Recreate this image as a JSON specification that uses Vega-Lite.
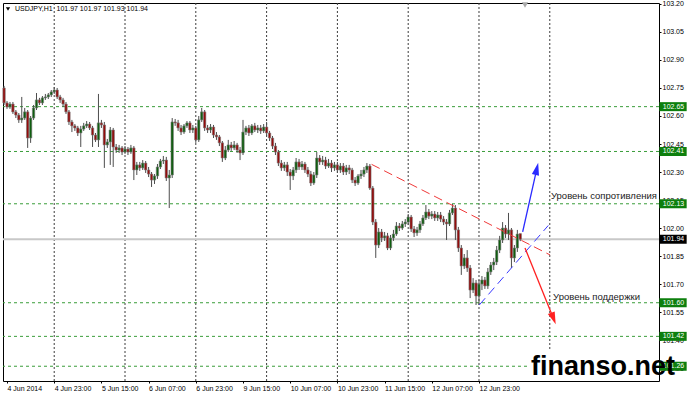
{
"$schema": "https://vega.github.io/schema/vega-lite/v6.json",
"width": 656, "height": 378,
"autosize": {"type": "none"},
"padding": {"left": 3, "top": 3, "right": 29, "bottom": 14},
"background": "white",
"config": {"view": {"stroke": "#000", "strokeWidth": 1}, "scale": {"continuousPadding": 0}, "axis": {"labelFont": "Liberation Sans", "labelOverlap": false, "labelFlush": false, "labelBound": false}, "text": {"font": "Liberation Sans"}},
"datasets": {
"vgrid": [{"i":16},{"i":40},{"i":64},{"i":88},{"i":112},{"i":136},{"i":160},{"i":184}],
"levels": [{"p":102.65},{"p":102.41},{"p":102.13},{"p":101.60},{"p":101.42},{"p":101.26}],
"bid": [{"p":101.94}],
"candles": [
{"i":-1,"o":102.750,"h":102.761,"l":102.659,"c":102.670},
{"i":0,"o":102.670,"h":102.680,"l":102.638,"c":102.648},
{"i":1,"o":102.648,"h":102.675,"l":102.638,"c":102.664},
{"i":2,"o":102.664,"h":102.675,"l":102.611,"c":102.622},
{"i":3,"o":102.622,"h":102.632,"l":102.589,"c":102.605},
{"i":4,"o":102.605,"h":102.616,"l":102.563,"c":102.579},
{"i":5,"o":102.579,"h":102.702,"l":102.563,"c":102.589},
{"i":6,"o":102.589,"h":102.643,"l":102.579,"c":102.622},
{"i":7,"o":102.622,"h":102.632,"l":102.429,"c":102.482},
{"i":8,"o":102.482,"h":102.600,"l":102.456,"c":102.589},
{"i":9,"o":102.589,"h":102.659,"l":102.579,"c":102.643},
{"i":10,"o":102.643,"h":102.723,"l":102.632,"c":102.686},
{"i":11,"o":102.686,"h":102.697,"l":102.659,"c":102.670},
{"i":12,"o":102.670,"h":102.707,"l":102.659,"c":102.697},
{"i":13,"o":102.697,"h":102.718,"l":102.686,"c":102.702},
{"i":14,"o":102.702,"h":102.723,"l":102.691,"c":102.713},
{"i":15,"o":102.713,"h":102.739,"l":102.702,"c":102.729},
{"i":16,"o":102.729,"h":102.755,"l":102.718,"c":102.739},
{"i":17,"o":102.739,"h":102.750,"l":102.691,"c":102.702},
{"i":18,"o":102.702,"h":102.713,"l":102.670,"c":102.686},
{"i":19,"o":102.686,"h":102.697,"l":102.648,"c":102.664},
{"i":20,"o":102.664,"h":102.675,"l":102.611,"c":102.622},
{"i":21,"o":102.622,"h":102.632,"l":102.552,"c":102.568},
{"i":22,"o":102.568,"h":102.579,"l":102.514,"c":102.547},
{"i":23,"o":102.547,"h":102.557,"l":102.520,"c":102.536},
{"i":24,"o":102.536,"h":102.547,"l":102.493,"c":102.509},
{"i":25,"o":102.509,"h":102.547,"l":102.434,"c":102.530},
{"i":26,"o":102.530,"h":102.563,"l":102.520,"c":102.547},
{"i":27,"o":102.547,"h":102.573,"l":102.536,"c":102.557},
{"i":28,"o":102.557,"h":102.568,"l":102.525,"c":102.536},
{"i":29,"o":102.536,"h":102.547,"l":102.434,"c":102.498},
{"i":30,"o":102.498,"h":102.509,"l":102.461,"c":102.472},
{"i":31,"o":102.472,"h":102.718,"l":102.434,"c":102.563},
{"i":32,"o":102.563,"h":102.579,"l":102.536,"c":102.552},
{"i":33,"o":102.552,"h":102.568,"l":102.322,"c":102.445},
{"i":34,"o":102.445,"h":102.477,"l":102.429,"c":102.461},
{"i":35,"o":102.461,"h":102.541,"l":102.338,"c":102.525},
{"i":36,"o":102.525,"h":102.536,"l":102.327,"c":102.434},
{"i":37,"o":102.434,"h":102.450,"l":102.402,"c":102.418},
{"i":38,"o":102.418,"h":102.445,"l":102.402,"c":102.429},
{"i":39,"o":102.429,"h":102.439,"l":102.391,"c":102.407},
{"i":40,"o":102.407,"h":102.439,"l":102.397,"c":102.423},
{"i":41,"o":102.423,"h":102.434,"l":102.391,"c":102.407},
{"i":42,"o":102.407,"h":102.445,"l":102.397,"c":102.429},
{"i":43,"o":102.429,"h":102.439,"l":102.257,"c":102.311},
{"i":44,"o":102.311,"h":102.354,"l":102.284,"c":102.338},
{"i":45,"o":102.338,"h":102.354,"l":102.306,"c":102.322},
{"i":46,"o":102.322,"h":102.364,"l":102.311,"c":102.348},
{"i":47,"o":102.348,"h":102.359,"l":102.295,"c":102.311},
{"i":48,"o":102.311,"h":102.327,"l":102.273,"c":102.289},
{"i":49,"o":102.289,"h":102.300,"l":102.220,"c":102.257},
{"i":50,"o":102.257,"h":102.289,"l":102.236,"c":102.279},
{"i":51,"o":102.279,"h":102.343,"l":102.263,"c":102.327},
{"i":52,"o":102.327,"h":102.370,"l":102.316,"c":102.359},
{"i":53,"o":102.359,"h":102.386,"l":102.343,"c":102.364},
{"i":54,"o":102.364,"h":102.381,"l":102.252,"c":102.268},
{"i":55,"o":102.268,"h":102.311,"l":102.107,"c":102.284},
{"i":56,"o":102.284,"h":102.589,"l":102.268,"c":102.568},
{"i":57,"o":102.568,"h":102.584,"l":102.547,"c":102.563},
{"i":58,"o":102.563,"h":102.579,"l":102.520,"c":102.536},
{"i":59,"o":102.536,"h":102.552,"l":102.498,"c":102.514},
{"i":60,"o":102.514,"h":102.557,"l":102.504,"c":102.547},
{"i":61,"o":102.547,"h":102.573,"l":102.536,"c":102.563},
{"i":62,"o":102.563,"h":102.573,"l":102.509,"c":102.525},
{"i":63,"o":102.525,"h":102.552,"l":102.509,"c":102.536},
{"i":64,"o":102.536,"h":102.547,"l":102.456,"c":102.472},
{"i":65,"o":102.472,"h":102.600,"l":102.461,"c":102.579},
{"i":66,"o":102.579,"h":102.643,"l":102.568,"c":102.622},
{"i":67,"o":102.622,"h":102.632,"l":102.520,"c":102.536},
{"i":68,"o":102.536,"h":102.552,"l":102.509,"c":102.525},
{"i":69,"o":102.525,"h":102.557,"l":102.509,"c":102.541},
{"i":70,"o":102.541,"h":102.552,"l":102.482,"c":102.498},
{"i":71,"o":102.498,"h":102.514,"l":102.472,"c":102.488},
{"i":72,"o":102.488,"h":102.498,"l":102.439,"c":102.456},
{"i":73,"o":102.456,"h":102.466,"l":102.354,"c":102.375},
{"i":74,"o":102.375,"h":102.439,"l":102.364,"c":102.418},
{"i":75,"o":102.418,"h":102.472,"l":102.407,"c":102.445},
{"i":76,"o":102.445,"h":102.461,"l":102.413,"c":102.429},
{"i":77,"o":102.429,"h":102.466,"l":102.418,"c":102.445},
{"i":78,"o":102.445,"h":102.456,"l":102.402,"c":102.418},
{"i":79,"o":102.418,"h":102.434,"l":102.364,"c":102.402},
{"i":80,"o":102.402,"h":102.579,"l":102.391,"c":102.514},
{"i":81,"o":102.514,"h":102.547,"l":102.498,"c":102.536},
{"i":82,"o":102.536,"h":102.552,"l":102.493,"c":102.509},
{"i":83,"o":102.509,"h":102.557,"l":102.498,"c":102.547},
{"i":84,"o":102.547,"h":102.563,"l":102.514,"c":102.525},
{"i":85,"o":102.525,"h":102.552,"l":102.509,"c":102.536},
{"i":86,"o":102.536,"h":102.552,"l":102.504,"c":102.520},
{"i":87,"o":102.520,"h":102.557,"l":102.509,"c":102.541},
{"i":88,"o":102.541,"h":102.568,"l":102.493,"c":102.509},
{"i":89,"o":102.509,"h":102.520,"l":102.466,"c":102.482},
{"i":90,"o":102.482,"h":102.493,"l":102.423,"c":102.439},
{"i":91,"o":102.439,"h":102.456,"l":102.391,"c":102.407},
{"i":92,"o":102.407,"h":102.418,"l":102.332,"c":102.348},
{"i":93,"o":102.348,"h":102.364,"l":102.306,"c":102.322},
{"i":94,"o":102.322,"h":102.354,"l":102.306,"c":102.338},
{"i":95,"o":102.338,"h":102.354,"l":102.279,"c":102.300},
{"i":96,"o":102.300,"h":102.316,"l":102.204,"c":102.279},
{"i":97,"o":102.279,"h":102.327,"l":102.257,"c":102.311},
{"i":98,"o":102.311,"h":102.375,"l":102.295,"c":102.354},
{"i":99,"o":102.354,"h":102.370,"l":102.311,"c":102.327},
{"i":100,"o":102.327,"h":102.359,"l":102.311,"c":102.343},
{"i":101,"o":102.343,"h":102.354,"l":102.295,"c":102.311},
{"i":102,"o":102.311,"h":102.327,"l":102.273,"c":102.289},
{"i":103,"o":102.289,"h":102.306,"l":102.225,"c":102.241},
{"i":104,"o":102.241,"h":102.300,"l":102.231,"c":102.284},
{"i":105,"o":102.284,"h":102.407,"l":102.268,"c":102.375},
{"i":106,"o":102.375,"h":102.391,"l":102.338,"c":102.354},
{"i":107,"o":102.354,"h":102.386,"l":102.338,"c":102.364},
{"i":108,"o":102.364,"h":102.381,"l":102.316,"c":102.332},
{"i":109,"o":102.332,"h":102.370,"l":102.322,"c":102.348},
{"i":110,"o":102.348,"h":102.364,"l":102.300,"c":102.322},
{"i":111,"o":102.322,"h":102.354,"l":102.306,"c":102.338},
{"i":112,"o":102.338,"h":102.354,"l":102.295,"c":102.311},
{"i":113,"o":102.311,"h":102.348,"l":102.295,"c":102.332},
{"i":114,"o":102.332,"h":102.348,"l":102.284,"c":102.300},
{"i":115,"o":102.300,"h":102.338,"l":102.284,"c":102.322},
{"i":116,"o":102.322,"h":102.338,"l":102.289,"c":102.311},
{"i":117,"o":102.311,"h":102.322,"l":102.241,"c":102.257},
{"i":118,"o":102.257,"h":102.273,"l":102.225,"c":102.241},
{"i":119,"o":102.241,"h":102.289,"l":102.231,"c":102.279},
{"i":120,"o":102.279,"h":102.311,"l":102.263,"c":102.289},
{"i":121,"o":102.289,"h":102.327,"l":102.273,"c":102.311},
{"i":122,"o":102.311,"h":102.348,"l":102.295,"c":102.332},
{"i":123,"o":102.332,"h":102.343,"l":102.204,"c":102.214},
{"i":124,"o":102.214,"h":102.225,"l":102.016,"c":102.032},
{"i":125,"o":102.032,"h":102.048,"l":101.840,"c":101.909},
{"i":126,"o":101.909,"h":102.000,"l":101.893,"c":101.979},
{"i":127,"o":101.979,"h":101.995,"l":101.925,"c":101.947},
{"i":128,"o":101.947,"h":101.979,"l":101.931,"c":101.958},
{"i":129,"o":101.958,"h":101.974,"l":101.882,"c":101.893},
{"i":130,"o":101.893,"h":101.963,"l":101.882,"c":101.947},
{"i":131,"o":101.947,"h":101.990,"l":101.931,"c":101.968},
{"i":132,"o":101.968,"h":102.032,"l":101.958,"c":102.011},
{"i":133,"o":102.011,"h":102.027,"l":101.984,"c":102.000},
{"i":134,"o":102.000,"h":102.038,"l":101.990,"c":102.022},
{"i":135,"o":102.022,"h":102.048,"l":102.006,"c":102.032},
{"i":136,"o":102.032,"h":102.075,"l":102.016,"c":102.059},
{"i":137,"o":102.059,"h":102.070,"l":101.979,"c":101.995},
{"i":138,"o":101.995,"h":102.011,"l":101.952,"c":101.974},
{"i":139,"o":101.974,"h":102.006,"l":101.958,"c":101.990},
{"i":140,"o":101.990,"h":102.038,"l":101.974,"c":102.022},
{"i":141,"o":102.022,"h":102.070,"l":102.011,"c":102.054},
{"i":142,"o":102.054,"h":102.123,"l":102.043,"c":102.086},
{"i":143,"o":102.086,"h":102.102,"l":102.048,"c":102.064},
{"i":144,"o":102.064,"h":102.091,"l":102.048,"c":102.075},
{"i":145,"o":102.075,"h":102.091,"l":102.038,"c":102.054},
{"i":146,"o":102.054,"h":102.086,"l":102.038,"c":102.070},
{"i":147,"o":102.070,"h":102.086,"l":102.032,"c":102.048},
{"i":148,"o":102.048,"h":102.064,"l":102.016,"c":102.032},
{"i":149,"o":102.032,"h":102.048,"l":101.936,"c":102.022},
{"i":150,"o":102.022,"h":102.097,"l":102.011,"c":102.081},
{"i":151,"o":102.081,"h":102.129,"l":102.070,"c":102.107},
{"i":152,"o":102.107,"h":102.123,"l":101.936,"c":101.990},
{"i":153,"o":101.990,"h":102.006,"l":101.872,"c":101.893},
{"i":154,"o":101.893,"h":101.909,"l":101.749,"c":101.797},
{"i":155,"o":101.797,"h":101.861,"l":101.781,"c":101.840},
{"i":156,"o":101.840,"h":101.882,"l":101.765,"c":101.786},
{"i":157,"o":101.786,"h":101.802,"l":101.625,"c":101.668},
{"i":158,"o":101.668,"h":101.732,"l":101.652,"c":101.706},
{"i":159,"o":101.706,"h":101.722,"l":101.588,"c":101.636},
{"i":160,"o":101.636,"h":101.722,"l":101.588,"c":101.700},
{"i":161,"o":101.700,"h":101.743,"l":101.668,"c":101.722},
{"i":162,"o":101.722,"h":101.738,"l":101.674,"c":101.690},
{"i":163,"o":101.690,"h":101.786,"l":101.674,"c":101.765},
{"i":164,"o":101.765,"h":101.818,"l":101.749,"c":101.802},
{"i":165,"o":101.802,"h":101.840,"l":101.775,"c":101.818},
{"i":166,"o":101.818,"h":101.904,"l":101.802,"c":101.882},
{"i":167,"o":101.882,"h":101.958,"l":101.866,"c":101.936},
{"i":168,"o":101.936,"h":102.032,"l":101.920,"c":102.000},
{"i":169,"o":102.000,"h":102.016,"l":101.947,"c":101.968},
{"i":170,"o":101.968,"h":102.081,"l":101.936,"c":101.990},
{"i":171,"o":101.990,"h":102.000,"l":101.786,"c":101.840},
{"i":172,"o":101.840,"h":101.909,"l":101.818,"c":101.893},
{"i":173,"o":101.893,"h":101.990,"l":101.872,"c":101.968},
{"i":174,"o":101.970,"h":101.970,"l":101.930,"c":101.940}
],
"redDash": [{"i":123.6,"p":102.341},{"i":184.1,"p":101.856}],
"blueDash": [{"i":160.1,"p":101.588},{"i":183.5,"p":102.014}],
"blueArrow": [{"i":174.8,"p":101.980},{"i":179.6,"p":102.317}],
"redArrow": [{"i":175.6,"p":101.893},{"i":185.25,"p":101.516}],
"blueHead": [{"i":179.6,"p":102.317}],
"redHead": [{"i":185.25,"p":101.516}],
"notes": [{"i":184.4,"p":102.172,"t":"Уровень сопротивления"},{"i":185.1,"p":101.631,"t":"Уровень поддержки"}],
"header": [{"i":2.71,"p":103.173,"t":"USDJPY,H1\u00a0 101.97 101.97 101.93 101.94"}],
"headerMark": [{"i":0.34,"p":103.173}],
"shiftMark": [{"i":175.6,"p":103.194}],
"brand": [{"i":177.6,"p":101.2156,"t":"finanso.net"}]
},
"layer": [
{"data": {"name": "vgrid"},
 "mark": {"type": "rule", "color": "#3c3c3c", "strokeDash": [2, 2], "strokeWidth": 1},
 "encoding": {"x": {"field": "i", "type": "quantitative", "scale": {"domain": [-1.36, 221.02], "nice": false, "zero": false, "padding": 0},
   "axis": {"orient": "bottom", "title": null, "values": [0,16,32,48,64,80,96,112,128,144,160], "tickCount": 30,
    "labelExpr": "['4 Jun 2014','4 Jun 23:00','5 Jun 15:00','6 Jun 07:00','6 Jun 23:00','9 Jun 15:00','10 Jun 07:00','10 Jun 23:00','11 Jun 15:00','12 Jun 07:00','12 Jun 23:00'][round(datum.value/16)]",
    "labelAlign": "left", "labelDx": -4, "labelFontSize": 7, "labelColor": "#000", "labelPadding": 1, "tickSize": 2, "tickColor": "#000", "domain": false, "grid": false, "labelOverlap": false, "labelFlush": false}}}},
{"data": {"name": "levels"},
 "mark": {"type": "rule", "color": "#3a9d3a", "strokeDash": [3, 3], "strokeWidth": 1},
 "encoding": {"y": {"field": "p", "type": "quantitative", "scale": {"domain": [101.181, 103.205], "nice": false, "zero": false, "padding": 0},
   "axis": {"orient": "right", "title": null, "values": [101.25,101.4,101.55,101.7,101.85,102.0,102.15,102.3,102.45,102.6,102.75,102.9,103.05,103.2], "tickCount": 30,
    "format": ".2f", "labelFontSize": 7, "labelColor": "#000", "labelPadding": 1, "tickSize": 2, "tickColor": "#000", "domain": false, "grid": false, "labelOverlap": false, "labelFlush": false, "labelBaseline": "middle"}}}},
{"data": {"name": "bid"},
 "mark": {"type": "rule", "color": "#c8c8c8", "strokeWidth": 2},
 "encoding": {"y": {"field": "p", "type": "quantitative", "axis": {"title": null}}}},
{"data": {"name": "candles"},
 "mark": {"type": "rule", "color": "#4d4d4d", "strokeWidth": 1},
 "encoding": {"x": {"field": "i", "type": "quantitative", "axis": {"title": null}}, "y": {"field": "l", "type": "quantitative", "axis": {"title": null}}, "y2": {"field": "h"}}},
{"data": {"name": "candles"},
 "mark": {"type": "bar", "size": 2.4, "stroke": "#7a7a7a", "strokeWidth": 0.6, "orient": "vertical"},
 "encoding": {"x": {"field": "i", "type": "quantitative", "axis": {"title": null}}, "y": {"field": "o", "type": "quantitative", "axis": {"title": null}}, "y2": {"field": "c"},
  "color": {"condition": {"test": "datum.c >= datum.o", "value": "#0f5e0f"}, "value": "#930c0c"}}},
{"data": {"name": "redDash"},
 "mark": {"type": "line", "color": "#f03a3a", "strokeDash": [9, 5], "strokeWidth": 1},
 "encoding": {"x": {"field": "i", "type": "quantitative", "axis": {"title": null}}, "y": {"field": "p", "type": "quantitative", "axis": {"title": null}}}},
{"data": {"name": "blueDash"},
 "mark": {"type": "line", "color": "#3a3aff", "strokeDash": [9, 5], "strokeWidth": 1},
 "encoding": {"x": {"field": "i", "type": "quantitative", "axis": {"title": null}}, "y": {"field": "p", "type": "quantitative", "axis": {"title": null}}}},
{"data": {"name": "blueArrow"},
 "mark": {"type": "line", "color": "#2a2aff", "strokeWidth": 1.3},
 "encoding": {"x": {"field": "i", "type": "quantitative", "axis": {"title": null}}, "y": {"field": "p", "type": "quantitative", "axis": {"title": null}}}},
{"data": {"name": "redArrow"},
 "mark": {"type": "line", "color": "#ff2020", "strokeWidth": 1.3},
 "encoding": {"x": {"field": "i", "type": "quantitative", "axis": {"title": null}}, "y": {"field": "p", "type": "quantitative", "axis": {"title": null}}}},
{"data": {"name": "blueHead"},
 "mark": {"type": "point", "shape": "M0,-1L0.6,1L-0.6,1Z", "size": 150, "filled": true, "color": "#2a2aff", "opacity": 1, "angle": 13},
 "encoding": {"x": {"field": "i", "type": "quantitative", "axis": {"title": null}}, "y": {"field": "p", "type": "quantitative", "axis": {"title": null}}}},
{"data": {"name": "redHead"},
 "mark": {"type": "point", "shape": "M0,-1L0.6,1L-0.6,1Z", "size": 150, "filled": true, "color": "#ff2020", "opacity": 1, "angle": 158.7},
 "encoding": {"x": {"field": "i", "type": "quantitative", "axis": {"title": null}}, "y": {"field": "p", "type": "quantitative", "axis": {"title": null}}}},
{"data": {"name": "notes"},
 "mark": {"type": "text", "align": "left", "baseline": "middle", "fontSize": 9.5, "color": "#1a1a1a"},
 "encoding": {"x": {"field": "i", "type": "quantitative", "axis": {"title": null}}, "y": {"field": "p", "type": "quantitative", "axis": {"title": null}}, "text": {"field": "t"}}},
{"data": {"name": "header"},
 "mark": {"type": "text", "align": "left", "baseline": "middle", "fontSize": 7, "color": "#000"},
 "encoding": {"x": {"field": "i", "type": "quantitative", "axis": {"title": null}}, "y": {"field": "p", "type": "quantitative", "axis": {"title": null}}, "text": {"field": "t"}}},
{"data": {"name": "headerMark"},
 "mark": {"type": "point", "shape": "triangle-down", "size": 18, "filled": true, "color": "#000", "opacity": 1},
 "encoding": {"x": {"field": "i", "type": "quantitative", "axis": {"title": null}}, "y": {"field": "p", "type": "quantitative", "axis": {"title": null}}}},
{"data": {"name": "shiftMark"},
 "mark": {"type": "point", "shape": "triangle-down", "size": 40, "filled": true, "color": "#a8a8a8", "opacity": 1},
 "encoding": {"x": {"field": "i", "type": "quantitative", "axis": {"title": null}}, "y": {"field": "p", "type": "quantitative", "axis": {"title": null}}}},
{"data": {"values": [{}]},
 "mark": {"type": "rect", "color": "white"},
 "encoding": {"x": {"datum": 177.3, "type": "quantitative", "axis": {"title": null}}, "x2": {"datum": 220.3}, "y": {"datum": 101.181, "type": "quantitative", "axis": {"title": null}}, "y2": {"datum": 101.347}}},
{"data": {"name": "levels"},
 "mark": {"type": "bar", "color": "#0d7f0d", "size": 9, "orient": "horizontal"},
 "encoding": {"x": {"datum": 221.15, "type": "quantitative", "axis": {"title": null}}, "x2": {"datum": 230.4}, "y": {"field": "p", "type": "quantitative", "axis": {"title": null}}}},
{"data": {"name": "levels"},
 "mark": {"type": "text", "align": "left", "baseline": "middle", "color": "white", "fontSize": 7},
 "encoding": {"x": {"datum": 222.3, "type": "quantitative", "axis": {"title": null}}, "y": {"field": "p", "type": "quantitative", "axis": {"title": null}}, "text": {"field": "p", "type": "quantitative", "format": ".2f"}}},
{"data": {"name": "bid"},
 "mark": {"type": "bar", "color": "#000", "size": 9, "orient": "horizontal"},
 "encoding": {"x": {"datum": 221.15, "type": "quantitative", "axis": {"title": null}}, "x2": {"datum": 230.4}, "y": {"field": "p", "type": "quantitative", "axis": {"title": null}}}},
{"data": {"name": "bid"},
 "mark": {"type": "text", "align": "left", "baseline": "middle", "color": "white", "fontSize": 7},
 "encoding": {"x": {"datum": 222.3, "type": "quantitative", "axis": {"title": null}}, "y": {"field": "p", "type": "quantitative", "axis": {"title": null}}, "text": {"field": "p", "type": "quantitative", "format": ".2f"}}},
{"data": {"name": "brand"},
 "mark": {"type": "text", "align": "left", "baseline": "alphabetic", "fontSize": 27, "fontWeight": "bold", "color": "#000"},
 "encoding": {"x": {"field": "i", "type": "quantitative", "axis": {"title": null}}, "y": {"field": "p", "type": "quantitative", "axis": {"title": null}}, "text": {"field": "t"}}}
]
}
